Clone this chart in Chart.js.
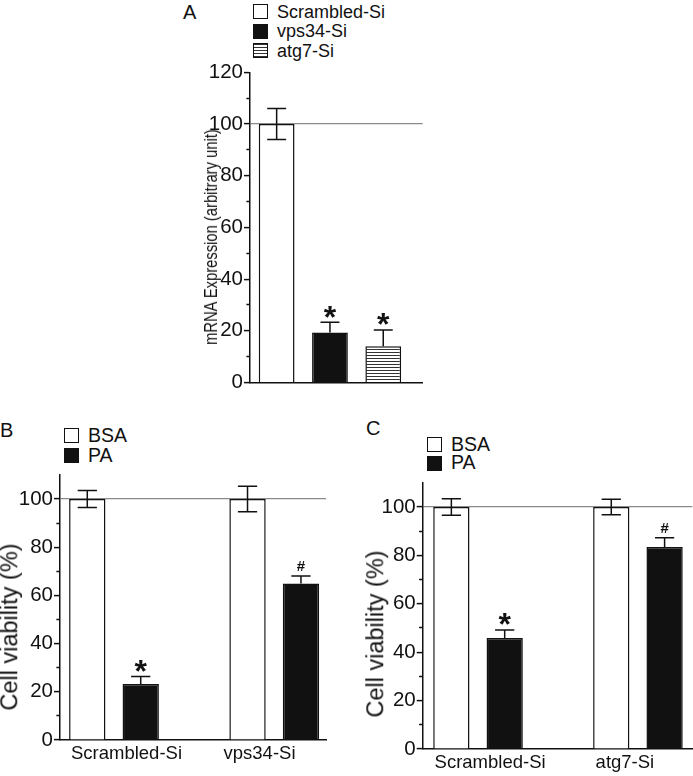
<!DOCTYPE html>
<html><head><meta charset="utf-8">
<script src="https://cdn.jsdelivr.net/npm/chart.js@4/dist/chart.umd.min.js"></script>
<style>
html,body{margin:0;padding:0;background:#fff;}
body{width:693px;height:776px;position:relative;overflow:hidden;font-family:"Liberation Sans",Arial,sans-serif;color:#111;}
canvas{position:absolute;}
.letter{position:absolute;font-size:20px;line-height:1;}
.leg{position:absolute;}
.row{position:absolute;left:0;display:flex;align-items:center;height:15px;white-space:nowrap;line-height:1;}
.sw{width:15px;height:15px;box-sizing:border-box;border:1.5px solid #111;display:inline-block;flex:none;}
.row span.t{margin-left:9px;}
.ytitle{position:absolute;white-space:nowrap;line-height:1;transform:translate(-50%,-50%) rotate(-90deg);}
</style></head><body>
<div class="letter" style="left:183px;top:2.4px">A</div>
<div class="letter" style="left:0px;top:420.4px">B</div>
<div class="letter" style="left:366px;top:417.5px">C</div>
<div class="leg" id="legA" style="left:253px;top:4px;font-size:18px"></div>
<div class="leg" id="legB" style="left:64px;top:428px;font-size:19.5px"></div>
<div class="leg" id="legC" style="left:427px;top:437px;font-size:19.5px"></div>
<canvas id="cA" width="260" height="360" style="left:180px;top:40px"></canvas>
<canvas id="cB" width="340" height="376" style="left:0px;top:400px"></canvas>
<canvas id="cC" width="341" height="376" style="left:352px;top:400px"></canvas>
<div class="ytitle" id="tA" style="left:211px;top:237px;font-size:18px;transform:translate(-50%,-50%) rotate(-90deg) scaleX(0.82)"></div>
<div class="ytitle" id="tB" style="left:10px;top:627px;font-size:23.5px"></div>
<div class="ytitle" id="tC" style="left:376px;top:634px;font-size:23.5px"></div>
<script>
// ---------- data ----------
const categoriesA = ['Scrambled-Si', 'vps34-Si', 'atg7-Si'];
const valuesA = [100, 19.3, 14.0];
const errorsA = [6.0, 4.0, 6.3];
const marksA = ['', '*', '*'];

const seriesBC = ['BSA', 'PA'];

const groupsB = ['Scrambled-Si', 'vps34-Si'];
const bsaB = [100, 100];
const bsaErrB = [3.5, 5.3];
const paB = [23.2, 64.9];
const paErrB = [3.1, 3.1];
const marksB = ['*', '#'];

const groupsC = ['Scrambled-Si', 'atg7-Si'];
const bsaC = [100, 100];
const bsaErrC = [3.4, 3.2];
const paC = [45.9, 83.5];
const paErrC = [3.3, 3.8];
const marksC = ['*', '#'];

const refLine = 100;
const yTitleA = 'mRNA Expression (arbitrary unit)';
const yTitleBC = 'Cell viability (%)';

// ---------- styling ----------
const FONT = '"Liberation Sans", Arial, sans-serif';
const INK = '#111';
const TICK_SIZE = 20.5;
Chart.defaults.font.family = FONT;
Chart.defaults.color = INK;
Chart.defaults.animation = false;

document.getElementById('tA').textContent = yTitleA;
document.getElementById('tB').textContent = yTitleBC;
document.getElementById('tC').textContent = yTitleBC;

function makeStripes() {
  const c = document.createElement('canvas'); c.width = 4; c.height = 3;
  const x = c.getContext('2d');
  x.fillStyle = '#fff'; x.fillRect(0, 0, 4, 3);
  x.fillStyle = '#333'; x.fillRect(0, 0, 4, 1);
  return document.createElement('canvas').getContext('2d').createPattern(c, 'repeat');
}
const STRIPES = makeStripes();

function legend(id, names, fills, pitch) {
  const box = document.getElementById(id);
  names.forEach((n, i) => {
    const r = document.createElement('div'); r.className = 'row'; r.style.top = (i * pitch) + 'px';
    const s = document.createElement('span'); s.className = 'sw'; s.style.background = fills[i];
    const t = document.createElement('span'); t.className = 't'; t.textContent = n;
    r.appendChild(s); r.appendChild(t); box.appendChild(r);
  });
}
const cssStripes = 'repeating-linear-gradient(to bottom,#333 0px,#333 1px,#fff 1px,#fff 3px)';
legend('legA', categoriesA, ['#fff', '#111', cssStripes], 19.5);
legend('legB', seriesBC, ['#fff', '#111'], 20);
legend('legC', seriesBC, ['#fff', '#111'], 18.5);

const errorPlugin = {
  id: 'errbars',
  afterDatasetsDraw(chart) {
    const ctx = chart.ctx; const ys = chart.scales.y;
    chart.data.datasets.forEach((ds, di) => {
      if (!ds.errors) return;
      const meta = chart.getDatasetMeta(di);
      meta.data.forEach((el, i) => {
        const v = ds.data[i].y; const e = ds.errors[i];
        const yT = ys.getPixelForValue(v + e), yB = ys.getPixelForValue(v - e), y0 = ys.getPixelForValue(v);
        const half = el.width * 0.265;
        ctx.save();
        ctx.strokeStyle = INK; ctx.lineWidth = 1.5;
        ctx.beginPath();
        ctx.moveTo(el.x, ds.errorBoth ? yB : y0); ctx.lineTo(el.x, yT);
        ctx.moveTo(el.x - half, yT); ctx.lineTo(el.x + half, yT);
        if (ds.errorBoth) { ctx.moveTo(el.x - half, yB); ctx.lineTo(el.x + half, yB); }
        ctx.stroke();
        const m = ds.marks && ds.marks[i];
        if (m) {
          ctx.fillStyle = INK; ctx.textAlign = 'center'; ctx.textBaseline = 'middle';
          if (m === '*') {
            const f = 32; ctx.font = 'bold ' + f + 'px ' + FONT;
            ctx.fillText(m, el.x, yT - 11 + 0.233 * f);
          } else {
            ctx.font = 'bold 15px ' + FONT;
            ctx.fillText(m, el.x, yT - 9);
          }
        }
        ctx.restore();
      });
    });
  }
};

function yAxis(max, width) {
  return {
    min: 0, max: max,
    ticks: { stepSize: 10, autoSkip: false, padding: 1, color: INK, font: { size: TICK_SIZE },
      callback: v => (v % 20 === 0 ? String(v) : '') },
    grid: {
      drawOnChartArea: true,
      color: c => (c.tick && c.tick.value === refLine ? '#8a8a8a' : 'rgba(0,0,0,0)'),
      lineWidth: 1.2,
      tickLength: 6, tickWidth: 1.5,
      tickColor: c => (c.tick && c.tick.value % 20 !== 0 && c.tick.value === max ? 'rgba(0,0,0,0)' : INK),
      tickBorderDash: c => (c.tick && c.tick.value % 20 === 0 ? [] : [0, 2.4, 10])
    },
    border: { display: true, color: INK, width: 1.5 },
    title: { display: false },
    afterFit: s => { s.width = width; }
  };
}
function xLinear(min, max, n) {
  return {
    type: 'linear', min: min, max: max, offset: false,
    afterBuildTicks: s => { s.ticks = Array.from({ length: n }, (_, i) => ({ value: i })); },
    ticks: { display: false },
    grid: { display: false, offset: false },
    border: { display: true, color: INK, width: 1.5 },
    afterFit: s => { s.height = 0; }
  };
}
function xLabels(labels, h, pad) {
  return {
    type: 'category', labels: labels, position: 'bottom', offset: true, weight: 1,
    grid: { display: false, drawTicks: false, offset: true },
    border: { display: false },
    ticks: { color: INK, font: { size: 18.5 }, padding: pad, maxRotation: 0, autoSkip: false },
    afterFit: s => { s.height = h; }
  };
}
const common = {
  responsive: false, maintainAspectRatio: false, animation: false,
  plugins: { legend: { display: false }, tooltip: { enabled: false } }
};

const fillsA = ['#fff', '#111', STRIPES];
new Chart(document.getElementById('cA'), {
  type: 'bar',
  data: {
    datasets: categoriesA.map((c, i) => ({
      label: c,
      data: [{ x: i, y: valuesA[i] }],
      backgroundColor: fillsA[i], borderColor: INK, borderWidth: 1.5, borderSkipped: 'bottom',
      grouped: false, categoryPercentage: 1, barPercentage: 0.671,
      errors: [errorsA[i]], errorBoth: i === 0, marks: [marksA[i]]
    }))
  },
  options: Object.assign({}, common, {
    layout: { padding: { left: 0, right: 17.3, top: 32.3, bottom: 17.5 } },
    scales: { x: xLinear(-0.5, 2.74, categoriesA.length), y: yAxis(120, 70) }
  }),
  plugins: [errorPlugin]
});

function panel(id, groups, bsa, bsaErr, pa, paErr, marks, xmin, xmax, pad, yWidth, xlH) {
  new Chart(document.getElementById(id), {
    type: 'bar',
    data: {
      datasets: [
        { label: seriesBC[0], data: groups.map((g, i) => ({ x: i, y: bsa[i] })), backgroundColor: '#fff',
          borderColor: INK, borderWidth: 1.5, borderSkipped: 'bottom', categoryPercentage: 0.667, barPercentage: 0.68,
          errors: bsaErr, errorBoth: true },
        { label: seriesBC[1], data: groups.map((g, i) => ({ x: i, y: pa[i] })), backgroundColor: '#111',
          borderColor: INK, borderWidth: 1.5, borderSkipped: 'bottom', categoryPercentage: 0.667, barPercentage: 0.68,
          errors: paErr, errorBoth: false, marks: marks }
      ]
    },
    options: Object.assign({}, common, {
      layout: { padding: pad },
      scales: { x: xLinear(xmin, xmax, groups.length), xl: xLabels(groups, xlH, 3), y: yAxis(110, yWidth) }
    }),
    plugins: [errorPlugin]
  });
}
panel('cB', groupsB, bsaB, bsaErrB, paB, paErrB, marksB, -0.337, 1.323,
  { left: 0, right: 14, top: 74.9, bottom: 0 }, 60, 36);
panel('cC', groupsC, bsaC, bsaErrC, paC, paErrC, marksC, -0.346, 1.340,
  { left: 0, right: 0.7, top: 82.8, bottom: 0 }, 70.7, 27);
</script>
</body></html>
